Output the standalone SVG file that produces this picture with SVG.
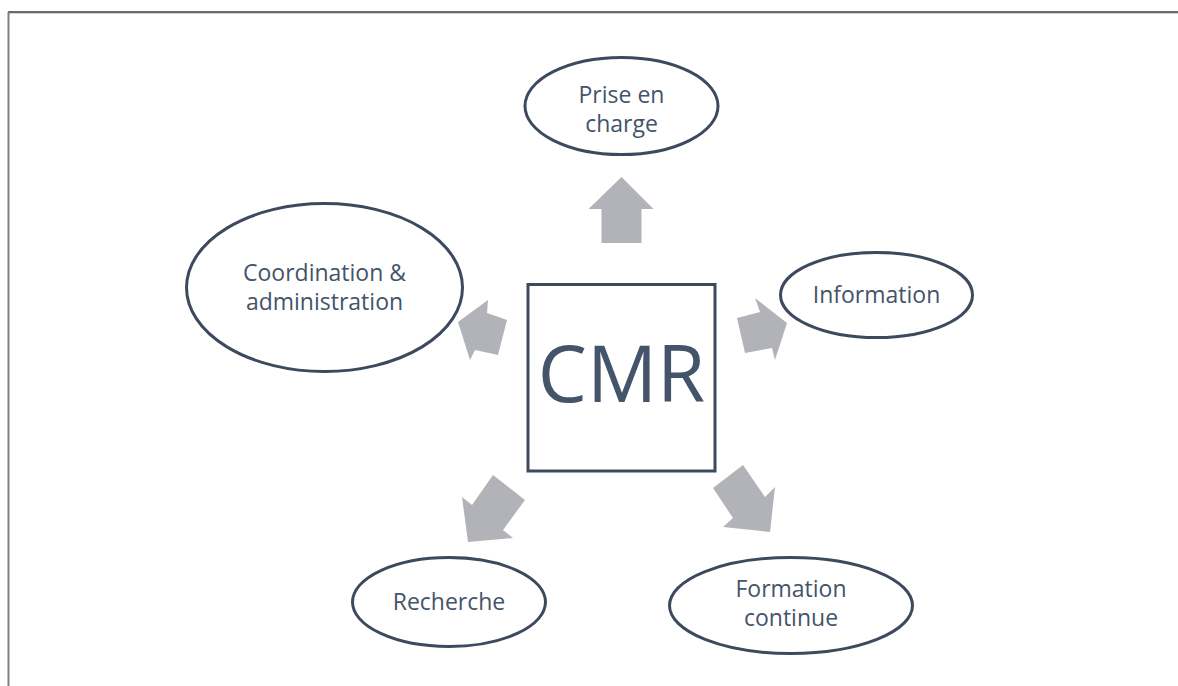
<svg xmlns="http://www.w3.org/2000/svg" width="1178" height="686" viewBox="0 0 1178 686">
  <style>
    .node { fill: #ffffff; stroke: #3d4a5d; stroke-width: 3; }
    .lbl { font-family: "Open Sans", "Liberation Sans", sans-serif; font-size: 23px; fill: #44546a; text-anchor: middle; }
    .big { font-family: "Open Sans", "Liberation Sans", sans-serif; font-size: 78px; fill: #44546a; text-anchor: middle; }
    .arrow { fill: #b1b3b9; }
  </style>
  <rect x="0" y="0" width="1178" height="686" fill="#ffffff"/>
  <!-- page frame -->
  <line x1="8" y1="12" x2="1178" y2="12" stroke="#3a3a3a" stroke-width="1.5"/>
  <line x1="8" y1="13.5" x2="1178" y2="13.5" stroke="#d0d0d0" stroke-width="1"/>
  <line x1="8.5" y1="12" x2="8.5" y2="686" stroke="#808080" stroke-width="2"/>

  <!-- block arrows from the centre -->
  <g id="connectors">
    <polygon class="arrow" points="621.5,177 653.5,209 641.5,209 641.5,243 601.5,243 601.5,209 588.5,209"/>
    <polygon class="arrow" points="488,300 458,322 470,360 475,350 498,355 507,320 487,313"/>
    <polygon class="arrow" points="755,298 787,323 775,360 772,348 745,353 737,318 760,312"/>
    <polygon class="arrow" points="493,475 525,500 503,530 513,538 468,542 462,497 472,505"/>
    <polygon class="arrow" points="743,465 713,488 733,518 723,527 770,532 775,487 765,497"/>
  </g>

  <g id="cmr">
    <rect class="node" x="528" y="284.5" width="187" height="186.5"/>
    <text class="big" x="621.5" y="402">CMR</text>
  </g>

  <g id="prise-en-charge">
    <ellipse class="node" cx="621.5" cy="106" rx="96.5" ry="48.5"/>
    <text class="lbl" x="621.5" y="103">Prise en</text>
    <text class="lbl" x="621.5" y="132">charge</text>
  </g>

  <g id="coordination">
    <ellipse class="node" cx="324.5" cy="287.5" rx="138" ry="84"/>
    <text class="lbl" x="324.5" y="281">Coordination &amp;</text>
    <text class="lbl" x="324.5" y="310">administration</text>
  </g>

  <g id="information">
    <ellipse class="node" cx="876.5" cy="295" rx="96" ry="42.5"/>
    <text class="lbl" x="876.5" y="303">Information</text>
  </g>

  <g id="recherche">
    <ellipse class="node" cx="449" cy="602" rx="96.5" ry="44.5"/>
    <text class="lbl" x="449" y="610">Recherche</text>
  </g>

  <g id="formation-continue">
    <ellipse class="node" cx="791" cy="605.5" rx="121.5" ry="48"/>
    <text class="lbl" x="791" y="597">Formation</text>
    <text class="lbl" x="791" y="626">continue</text>
  </g>
</svg>
